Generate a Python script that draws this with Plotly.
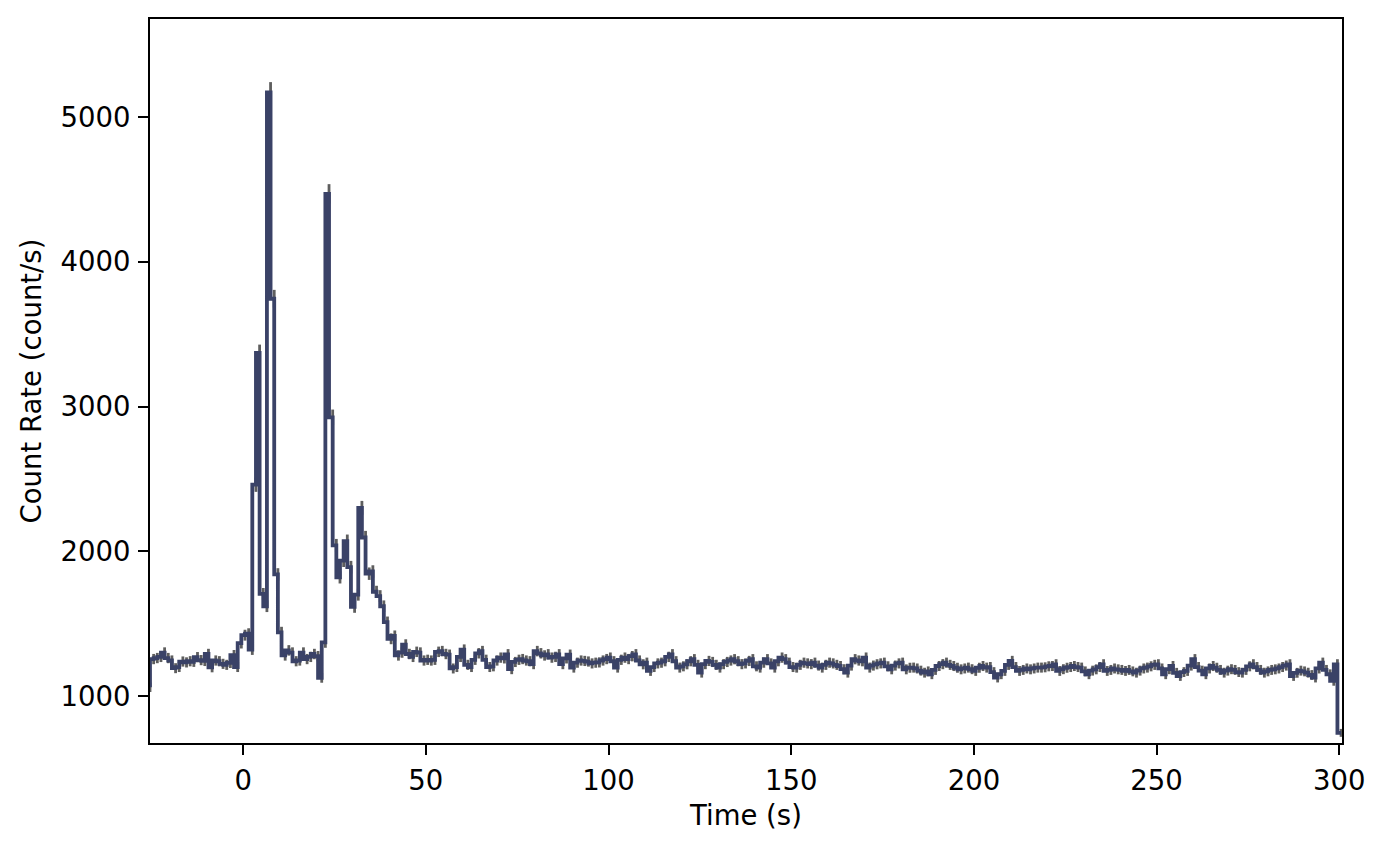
import numpy as np
import plotly.graph_objects as go

# Light-curve data: rate (count/s) at the end of each 1 s bin, first point at t = -25.5 s
t_start = -25.5
bin_width = 1.0

rate_pre = [1060,
            1255, 1262, 1270, 1300, 1262, 1245, 1192, 1200, 1238, 1232,
            1240, 1236, 1268, 1248, 1242, 1290, 1198, 1245, 1240, 1222,
            1215, 1228, 1282, 1200, 1365]

rate_burst = [1420, 1430, 1320, 2460, 3370, 1705, 1620, 5170, 3745, 1840,
              1440, 1280, 1315, 1300, 1240, 1245, 1300, 1255, 1270, 1290,
              1275, 1125, 1370, 4470, 2925, 2040, 1820, 1935, 2070, 1890,
              1615, 1700, 2300, 2095, 1845, 1860, 1720, 1690, 1620, 1510,
              1395, 1415, 1280, 1300, 1355, 1290, 1270, 1305, 1300, 1245]

rate_tail = [1250, 1245, 1250, 1305, 1310, 1290, 1285, 1190, 1200, 1270,
             1320, 1215, 1200, 1250, 1295, 1310, 1250, 1200, 1205, 1245,
             1265, 1260, 1288, 1185, 1235, 1250, 1255, 1245, 1240, 1220,
             1310, 1295, 1280, 1288, 1265, 1270, 1288, 1220, 1260, 1285,
             1196, 1230, 1245, 1242, 1238, 1225, 1230, 1232, 1245, 1255,
             1265, 1240, 1196, 1250, 1265, 1255, 1275, 1288, 1245, 1219,
             1230, 1173, 1200, 1225, 1230, 1240, 1270, 1288, 1240, 1196,
             1205, 1219, 1240, 1254, 1215, 1161, 1220, 1242, 1235, 1215,
             1196, 1220, 1235, 1245, 1254, 1240, 1220, 1225, 1242, 1254,
             1205, 1196, 1230, 1254, 1225, 1196, 1240, 1265, 1254, 1230,
             1200, 1196, 1215, 1230, 1225, 1220, 1230, 1210, 1196, 1215,
             1230, 1225, 1215, 1207, 1185, 1161, 1210, 1254, 1245, 1240,
             1265, 1196, 1210, 1219, 1225, 1230, 1205, 1184, 1210, 1225,
             1230, 1184, 1195, 1196, 1190, 1175, 1161, 1170, 1150, 1180,
             1207, 1220, 1230, 1215, 1207, 1195, 1184, 1190, 1196, 1185,
             1173, 1195, 1207, 1196, 1200, 1165, 1127, 1150, 1173, 1215,
             1242, 1200, 1173, 1180, 1190, 1184, 1190, 1196, 1196, 1198,
             1205, 1207, 1219, 1173, 1185, 1195, 1200, 1207, 1200, 1196,
             1170, 1150, 1175, 1184, 1200, 1219, 1173, 1180, 1190, 1184,
             1180, 1173, 1180, 1170, 1161, 1175, 1190, 1196, 1205, 1215,
             1219, 1190, 1150, 1185, 1207, 1160, 1138, 1165, 1173, 1210,
             1254, 1200, 1175, 1150, 1190, 1207, 1195, 1180, 1161, 1175,
             1185, 1180, 1165, 1161, 1180, 1205, 1219, 1200, 1180, 1161,
             1170, 1180, 1184, 1190, 1200, 1210, 1219, 1138, 1160, 1175,
             1170, 1161, 1145, 1127, 1190, 1230, 1180, 1150, 1104, 1219,
             745]

x_ticks = [0, 50, 100, 150, 200, 250, 300]
y_ticks = [1000, 2000, 3000, 4000, 5000]
x_range = [-25.5, 300.75]
y_range = [675, 5678]

rate = np.array(rate_pre + rate_burst + rate_tail, dtype=float)
time = t_start + bin_width * np.arange(len(rate))
rate_err = np.sqrt(rate * bin_width) / bin_width  # Poisson uncertainty

LINE = '#3a4267'
ERR = '#5e5e5e'
FONT = 'DejaVu Sans'
FS = 27.5

fig = go.Figure()
fig.add_trace(go.Scatter(
    x=time, y=rate, mode='markers',
    marker=dict(size=1, color='rgba(0,0,0,0)'),
    error_y=dict(type='data', array=rate_err, visible=True,
                 color=ERR, thickness=2.8, width=0),
    hoverinfo='skip', showlegend=False))
fig.add_trace(go.Scatter(
    x=time, y=rate, mode='lines',
    line=dict(shape='vh', color=LINE, width=3.8),
    showlegend=False))

axis_common = dict(
    showline=True, linecolor='black', linewidth=2, mirror=True,
    ticks='outside', ticklen=10, tickwidth=2, tickcolor='black',
    showgrid=False, zeroline=False,
    tickfont=dict(family=FONT, size=FS, color='black'),
)

fig.update_xaxes(range=x_range, tickmode='array', tickvals=x_ticks,
                 ticktext=[str(v) for v in x_ticks],
                 title=dict(text='Time (s)', font=dict(family=FONT, size=FS, color='black'), standoff=11),
                 ticklabelstandoff=2,
                 **axis_common)
fig.update_yaxes(range=y_range, tickmode='array', tickvals=y_ticks,
                 ticktext=[str(v) for v in y_ticks],
                 title=dict(text='Count Rate (count/s)', font=dict(family=FONT, size=FS, color='black'), standoff=11),
                 ticklabelstandoff=2,
                 **axis_common)

fig.update_layout(
    width=1385, height=850,
    margin=dict(l=150, r=43, t=19, b=107, pad=0),
    plot_bgcolor='white', paper_bgcolor='white',
    font=dict(family=FONT, size=FS, color='black'),
)

fig.write_html('out.html')
